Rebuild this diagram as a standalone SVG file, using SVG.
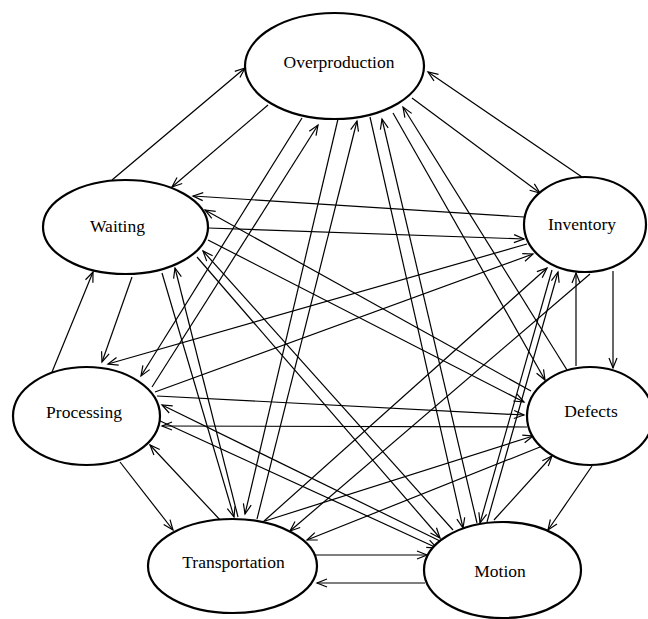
<svg xmlns="http://www.w3.org/2000/svg" width="648" height="619" viewBox="0 0 648 619">
<defs>
<marker id="ah" markerUnits="userSpaceOnUse" markerWidth="12" markerHeight="10" refX="10" refY="4" orient="auto" overflow="visible">
<path d="M0,0 L10,4 L0,8" fill="none" stroke="#000" stroke-width="1.2"/>
</marker>
<style>
.n ellipse{fill:#fff;stroke:#000;stroke-width:2.2}
.n text{font-family:"Liberation Serif","Times New Roman",serif;font-size:17.5px;fill:#000;text-anchor:middle}
.c line{stroke:#000;stroke-width:1.2;fill:none;marker-end:url(#ah)}
</style>
</defs>
<rect width="648" height="619" fill="#fff"/>
<g id="connectors" class="c">
<line x1="112" y1="180" x2="245" y2="68"/>
<line x1="268" y1="105" x2="172" y2="187"/>
<line x1="582" y1="177" x2="428" y2="72"/>
<line x1="412" y1="98" x2="540" y2="193"/>
<line x1="302" y1="118" x2="141" y2="376"/>
<line x1="152" y1="387" x2="318" y2="125"/>
<line x1="338" y1="119" x2="245" y2="514"/>
<line x1="257" y1="519" x2="357" y2="121"/>
<line x1="370" y1="117" x2="463" y2="528"/>
<line x1="477" y1="523" x2="382" y2="119"/>
<line x1="393" y1="113" x2="545" y2="380"/>
<line x1="567" y1="370" x2="403" y2="107"/>
<line x1="524" y1="217" x2="193" y2="196"/>
<line x1="208" y1="228" x2="524" y2="239"/>
<line x1="52" y1="372" x2="93" y2="272"/>
<line x1="132" y1="277" x2="102" y2="362"/>
<line x1="162" y1="273" x2="234" y2="517"/>
<line x1="238" y1="517" x2="175" y2="268"/>
<line x1="208" y1="240" x2="524" y2="402"/>
<line x1="531" y1="391" x2="205" y2="210"/>
<line x1="197" y1="257" x2="440" y2="538"/>
<line x1="453" y1="530" x2="203" y2="251"/>
<line x1="527" y1="244" x2="108" y2="364"/>
<line x1="155" y1="392" x2="533" y2="254"/>
<line x1="576" y1="366" x2="576" y2="273"/>
<line x1="613" y1="271" x2="613" y2="368"/>
<line x1="263" y1="522" x2="547" y2="268"/>
<line x1="590" y1="274" x2="290" y2="531"/>
<line x1="487" y1="522" x2="558" y2="272"/>
<line x1="552" y1="270" x2="480" y2="523"/>
<line x1="157" y1="396" x2="524" y2="415"/>
<line x1="527" y1="427" x2="162" y2="426"/>
<line x1="440" y1="541" x2="162" y2="405"/>
<line x1="158" y1="420" x2="437" y2="548"/>
<line x1="120" y1="462" x2="173" y2="530"/>
<line x1="222" y1="522" x2="150" y2="445"/>
<line x1="265" y1="521" x2="533" y2="436"/>
<line x1="540" y1="447" x2="307" y2="540"/>
<line x1="494" y1="520" x2="552" y2="456"/>
<line x1="592" y1="466" x2="548" y2="530"/>
<line x1="313" y1="555" x2="427" y2="555"/>
<line x1="425" y1="583" x2="317" y2="583"/>
</g>
<g id="overproduction" class="n"><ellipse cx="334.5" cy="66" rx="89.5" ry="53"/><text x="339" y="68">Overproduction</text></g>
<g id="waiting" class="n"><ellipse cx="125.5" cy="227" rx="82.5" ry="47"/><text x="117.5" y="232">Waiting</text></g>
<g id="inventory" class="n"><ellipse cx="585" cy="224.5" rx="61" ry="47.5"/><text x="582" y="230">Inventory</text></g>
<g id="processing" class="n"><ellipse cx="86.5" cy="416" rx="73.5" ry="49"/><text x="84" y="418">Processing</text></g>
<g id="defects" class="n"><ellipse cx="590" cy="416" rx="63" ry="49"/><text x="591" y="417">Defects</text></g>
<g id="transportation" class="n"><ellipse cx="232.5" cy="566" rx="84.5" ry="47"/><text x="233.5" y="568">Transportation</text></g>
<g id="motion" class="n"><ellipse cx="502.5" cy="570" rx="78.5" ry="48"/><text x="500" y="577">Motion</text></g>
</svg>
